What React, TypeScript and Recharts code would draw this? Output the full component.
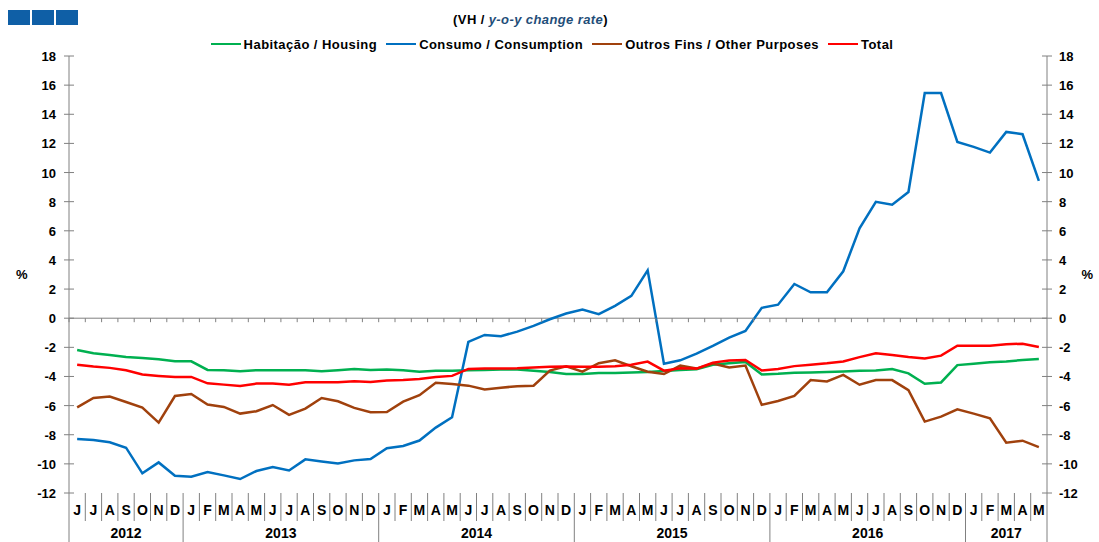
import React from 'react';
import { LineChart, Line, XAxis, YAxis, ReferenceLine, Legend } from 'recharts';

const periods = [
  '2012-06', '2012-07', '2012-08', '2012-09', '2012-10', '2012-11', '2012-12',
  '2013-01', '2013-02', '2013-03', '2013-04', '2013-05', '2013-06', '2013-07', '2013-08', '2013-09', '2013-10', '2013-11', '2013-12',
  '2014-01', '2014-02', '2014-03', '2014-04', '2014-05', '2014-06', '2014-07', '2014-08', '2014-09', '2014-10', '2014-11', '2014-12',
  '2015-01', '2015-02', '2015-03', '2015-04', '2015-05', '2015-06', '2015-07', '2015-08', '2015-09', '2015-10', '2015-11', '2015-12',
  '2016-01', '2016-02', '2016-03', '2016-04', '2016-05', '2016-06', '2016-07', '2016-08', '2016-09', '2016-10', '2016-11', '2016-12',
  '2017-01', '2017-02', '2017-03', '2017-04', '2017-05',
];

const monthLetters = ['J', 'F', 'M', 'A', 'M', 'J', 'J', 'A', 'S', 'O', 'N', 'D'];

const housing = [
  -2.18, -2.40, -2.52, -2.66, -2.73, -2.82, -2.96,
  -2.96, -3.55, -3.57, -3.64, -3.57, -3.57, -3.57, -3.57, -3.64, -3.57, -3.48, -3.55,
  -3.52, -3.57, -3.67, -3.60, -3.60, -3.57, -3.55, -3.53, -3.53, -3.60, -3.69, -3.83,
  -3.83, -3.76, -3.76, -3.73, -3.69, -3.62, -3.55, -3.50, -3.20, -3.09, -3.00, -3.86,
  -3.82, -3.75, -3.72, -3.70, -3.66, -3.61, -3.59, -3.49, -3.79, -4.50, -4.41, -3.22,
  -3.13, -3.03, -2.97, -2.87, -2.80,
];

const consumption = [
  -8.29, -8.36, -8.52, -8.89, -10.65, -9.90, -10.81,
  -10.88, -10.56, -10.79, -11.04, -10.49, -10.22, -10.45, -9.69, -9.83, -9.97, -9.76, -9.67,
  -8.93, -8.77, -8.40, -7.51, -6.80, -1.63, -1.15, -1.24, -0.92, -0.53, -0.07, 0.32,
  0.60, 0.28, 0.85, 1.53, 3.29, -3.12, -2.89, -2.43, -1.90, -1.33, -0.88, 0.71,
  0.93, 2.35, 1.78, 1.78, 3.22, 6.17, 7.99, 7.79, 8.66, 15.46, 15.46, 12.10,
  11.76, 11.37, 12.79, 12.63, 9.43,
];

const otherPurposes = [
  -6.12, -5.48, -5.38, -5.75, -6.14, -7.17, -5.34,
  -5.20, -5.93, -6.09, -6.55, -6.39, -5.96, -6.64, -6.21, -5.48, -5.70, -6.16, -6.46,
  -6.44, -5.73, -5.29, -4.44, -4.51, -4.63, -4.90, -4.77, -4.67, -4.63, -3.60, -3.30,
  -3.67, -3.09, -2.89, -3.30, -3.67, -3.83, -3.25, -3.46, -3.12, -3.39, -3.25, -5.95,
  -5.68, -5.33, -4.25, -4.34, -3.89, -4.57, -4.25, -4.25, -4.94, -7.10, -6.76, -6.25,
  -6.55, -6.87, -8.55, -8.41, -8.85,
];

const total = [
  -3.20, -3.32, -3.41, -3.57, -3.87, -3.96, -4.03,
  -4.03, -4.47, -4.56, -4.65, -4.49, -4.49, -4.56, -4.40, -4.40, -4.40, -4.33, -4.38,
  -4.28, -4.24, -4.17, -4.03, -3.96, -3.48, -3.46, -3.46, -3.44, -3.39, -3.34, -3.32,
  -3.34, -3.34, -3.30, -3.20, -2.98, -3.60, -3.44, -3.46, -3.05, -2.91, -2.87, -3.59,
  -3.49, -3.29, -3.20, -3.10, -2.97, -2.67, -2.41, -2.53, -2.67, -2.76, -2.57, -1.89,
  -1.89, -1.89, -1.79, -1.75, -1.98,
];

const yTicks = [-12, -10, -8, -6, -4, -2, 0, 2, 4, 6, 8, 10, 12, 14, 16, 18];

const seriesInfo = [
  { key: 'housing', name: 'Habitação / Housing', color: '#00B050' },
  { key: 'consumption', name: 'Consumo / Consumption', color: '#0070C0' },
  { key: 'other', name: 'Outros Fins / Other Purposes', color: '#A0410D' },
  { key: 'total', name: 'Total', color: '#FF0000' },
];

const data = periods.map((p, i) => ({
  period: p,
  housing: housing[i],
  consumption: consumption[i],
  other: otherPurposes[i],
  total: total[i],
}));

const W = 1099;
const H = 542;
const LEFT_W = 69;
const RIGHT_W = 52;
const TOP = 56;
const BOTTOM_H = 49;
const PLOT_W = W - LEFT_W - RIGHT_W;
const PLOT_H = H - TOP - BOTTOM_H;
const Y_MIN = -12;
const Y_MAX = 18;
const BAND = PLOT_W / periods.length;
const ZERO_Y = TOP + (PLOT_H * Y_MAX) / (Y_MAX - Y_MIN);
const AXIS_Y = TOP + PLOT_H;
const GRAY = '#808080';
const FONT = "'Liberation Sans', Arial, sans-serif";

const XTick = (props: any) => {
  const { x, payload } = props;
  const idx = periods.indexOf(payload.value);
  if (idx < 0) return null;
  const yr = periods[idx].slice(0, 4);
  const mon = parseInt(periods[idx].slice(5, 7), 10);
  const left = x - BAND / 2;
  const isYearStart = idx === 0 || periods[idx - 1].slice(0, 4) !== yr;
  const isLast = idx === periods.length - 1;
  const count = periods.filter((p) => p.startsWith(yr)).length;
  return (
    <g>
      <line x1={left} x2={left} y1={ZERO_Y} y2={ZERO_Y + 4} stroke={GRAY} strokeWidth={1} />
      <line x1={left} x2={left} y1={AXIS_Y} y2={isYearStart ? H : AXIS_Y + 28} stroke={GRAY} strokeWidth={1} />
      {isLast && <line x1={x + BAND / 2} x2={x + BAND / 2} y1={AXIS_Y} y2={H} stroke={GRAY} strokeWidth={1} />}
      <text x={x} y={AXIS_Y + 22} textAnchor="middle" fontFamily={FONT} fontWeight="bold" fontSize={14} fill="#000">
        {monthLetters[mon - 1]}
      </text>
      {isYearStart && (
        <text x={left + (count * BAND) / 2} y={H - 4} textAnchor="middle" fontFamily={FONT} fontWeight="bold" fontSize={14} fill="#000">
          {yr}
        </text>
      )}
    </g>
  );
};

const YTickLeft = (props: any) => {
  const { y, payload } = props;
  return (
    <g>
      <line x1={LEFT_W - 5} x2={LEFT_W + 5} y1={y} y2={y} stroke={GRAY} strokeWidth={1} />
      <text x={LEFT_W - 13} y={y + 5} textAnchor="end" fontFamily={FONT} fontWeight="bold" fontSize={13} fill="#000">
        {payload.value}
      </text>
    </g>
  );
};

const YTickRight = (props: any) => {
  const { y, payload } = props;
  const ax = W - RIGHT_W;
  return (
    <g>
      <line x1={ax - 5} x2={ax + 5} y1={y} y2={y} stroke={GRAY} strokeWidth={1} />
      <text x={ax + 12} y={y + 5} textAnchor="start" fontFamily={FONT} fontWeight="bold" fontSize={13} fill="#000">
        {payload.value}
      </text>
    </g>
  );
};

const LegendContent = () => (
  <div style={{ display: 'flex', justifyContent: 'center', alignItems: 'center', height: 20, paddingLeft: 14 }}>
    {seriesInfo.map((s) => (
      <div key={s.key} style={{ display: 'flex', alignItems: 'center', marginRight: 9 }}>
        <div style={{ width: 30, height: 2.5, background: s.color, marginRight: 3 }} />
        <span style={{ fontFamily: FONT, fontWeight: 'bold', fontSize: 13, letterSpacing: 0.45, color: '#000', whiteSpace: 'nowrap' }}>{s.name}</span>
      </div>
    ))}
  </div>
);

export default function App() {
  return (
    <div style={{ position: 'absolute', left: 0, top: 0, width: W, height: H, background: '#fff', overflow: 'hidden' }}>
      <div style={{ position: 'absolute', left: 8, top: 10, display: 'flex' }}>
        <div style={{ width: 22, height: 15, background: '#0F5FA6', marginRight: 2 }} />
        <div style={{ width: 22, height: 15, background: '#0F5FA6', marginRight: 2 }} />
        <div style={{ width: 22, height: 15, background: '#0F5FA6' }} />
      </div>
      <div
        style={{
          position: 'absolute',
          left: 0,
          width: 1061,
          top: 12,
          textAlign: 'center',
          fontFamily: FONT,
          fontWeight: 'bold',
          fontSize: 13,
          letterSpacing: 0.4,
          color: '#000',
        }}
      >
        (VH / <span style={{ fontStyle: 'italic', color: '#1F4E79' }}>y-o-y change rate</span>)
      </div>
      <LineChart width={W} height={H} data={data} margin={{ top: 36, right: 0, bottom: 0, left: 0 }}>
        <Legend verticalAlign="top" content={<LegendContent />} wrapperStyle={{ top: 34, left: 0, width: W, height: 20 }} />
        <XAxis
          dataKey="period"
          scale="band"
          interval={0}
          height={BOTTOM_H}
          axisLine={false}
          tickLine={false}
          tick={<XTick />}
        />
        <YAxis
          yAxisId="left"
          width={LEFT_W}
          domain={[Y_MIN, Y_MAX]}
          ticks={yTicks}
          interval={0}
          allowDataOverflow
          axisLine={{ stroke: GRAY }}
          tickLine={false}
          tick={<YTickLeft />}
          label={{ value: '%', position: 'insideLeft', offset: 16, fontFamily: FONT, fontWeight: 'bold', fontSize: 13, fill: '#000' }}
        />
        <YAxis
          yAxisId="right"
          orientation="right"
          width={RIGHT_W}
          domain={[Y_MIN, Y_MAX]}
          ticks={yTicks}
          interval={0}
          allowDataOverflow
          axisLine={{ stroke: GRAY }}
          tickLine={false}
          tick={<YTickRight />}
          label={{ value: '%', position: 'insideRight', offset: 6, fontFamily: FONT, fontWeight: 'bold', fontSize: 13, fill: '#000' }}
        />
        <ReferenceLine yAxisId="left" y={0} stroke={GRAY} strokeWidth={1} />
        {seriesInfo.map((s) => (
          <Line
            key={s.key}
            yAxisId="left"
            type="linear"
            dataKey={s.key}
            name={s.name}
            stroke={s.color}
            strokeWidth={2.5}
            dot={false}
            activeDot={false}
            isAnimationActive={false}
          />
        ))}
      </LineChart>
    </div>
  );
}
